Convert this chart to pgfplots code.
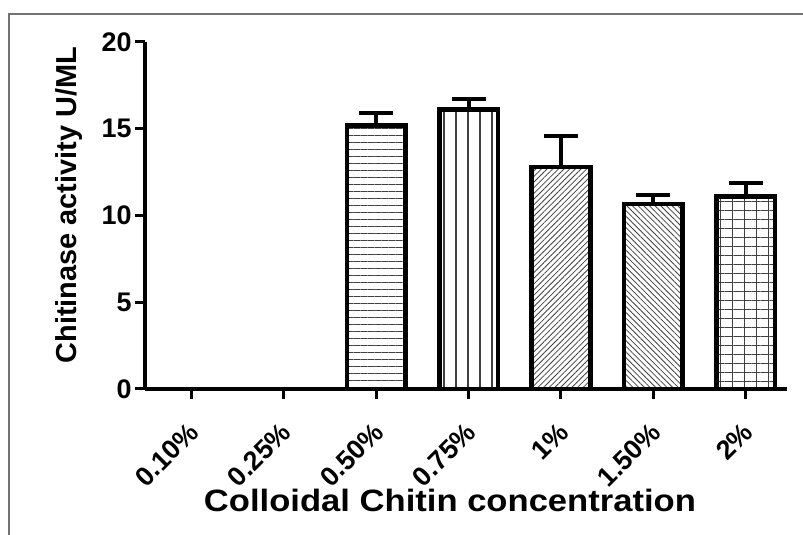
\documentclass[border=0pt]{standalone}
\usepackage{fontspec}
\setmainfont{Liberation Sans}
\newfontfamily\wfont[FakeStretch=1.12]{Liberation Sans}
\usepackage{pgfplots}
\pgfplotsset{compat=1.18}
\usetikzlibrary{patterns.meta}
\begin{document}
\begin{tikzpicture}[x=1bp,y=1bp]
\useasboundingbox (0,0) rectangle (803,535);
\draw[black!55, line width=2bp] (9,0) -- (9,521) -- (803,521);
\begin{axis}[
  at={(145bp,146bp)}, anchor=south west,
  scale only axis, width=642bp, height=347bp,
  xmin=-0.5, xmax=6.445, ymin=0, ymax=20,
  axis lines=left, axis line style={line width=3.5bp, -},
  ytick={0,5,10,15,20},
  xtick={0,...,6},
  xticklabels={0.10\%,0.25\%,0.50\%,0.75\%,1\%,1.50\%,2\%},
  tick align=outside, major tick length=10bp,
  tick style={line width=3bp, black},
  /pgf/number format/assume math mode=true,
  ticklabel style={font=\bfseries\fontsize{27}{27}\selectfont},
  xticklabel style={rotate=45, anchor=east, xshift=-15bp, yshift=-22bp},
  xlabel={Colloidal Chitin concentration},
  ylabel={Chitinase activity U/ML},
  xlabel style={font=\wfont\bfseries\fontsize{31}{31}\selectfont, at={(axis description cs:0.475,-0.32)}, anchor=center},
  ylabel style={font=\bfseries\fontsize{29}{29}\selectfont, at={(axis description cs:-0.131,0.53)}, anchor=center, yshift=-8bp},
  clip=false,
]
\pgfplotsset{
  mybar/.style={ybar, bar width=0.633, bar shift=0pt, draw=black, line width=4.5bp,
    pattern color=black!75,
    error bars/.cd, y dir=plus, y explicit,
    error bar style={line width=4bp, draw=black, solid},
    error mark options={rotate=90, mark size=17bp, line width=4bp, black},
    /pgfplots/.cd},
}
\addplot[pattern={Lines[angle=0,distance=7bp,line width=1bp]}, mybar] coordinates {(2,15.2) +- (0,0.7)};
\addplot[pattern={Lines[angle=90,distance=12bp,line width=1.2bp]}, mybar] coordinates {(3,16.1) +- (0,0.6)};
\addplot[pattern={Lines[angle=45,distance=4bp,line width=0.8bp]}, mybar] coordinates {(4,12.8) +- (0,1.8)};
\addplot[pattern={Lines[angle=-45,distance=4bp,line width=0.8bp]}, mybar] coordinates {(5,10.65) +- (0,0.55)};
\addplot[ybar, bar width=0.633, bar shift=0pt, draw=none, pattern={Lines[angle=90,distance=12bp,line width=1bp]}, pattern color=black!75] coordinates {(6,11.1)};
\addplot[pattern={Lines[angle=0,distance=9bp,line width=1bp]}, mybar] coordinates {(6,11.1) +- (0,0.8)};
\end{axis}
\end{tikzpicture}
\end{document}
